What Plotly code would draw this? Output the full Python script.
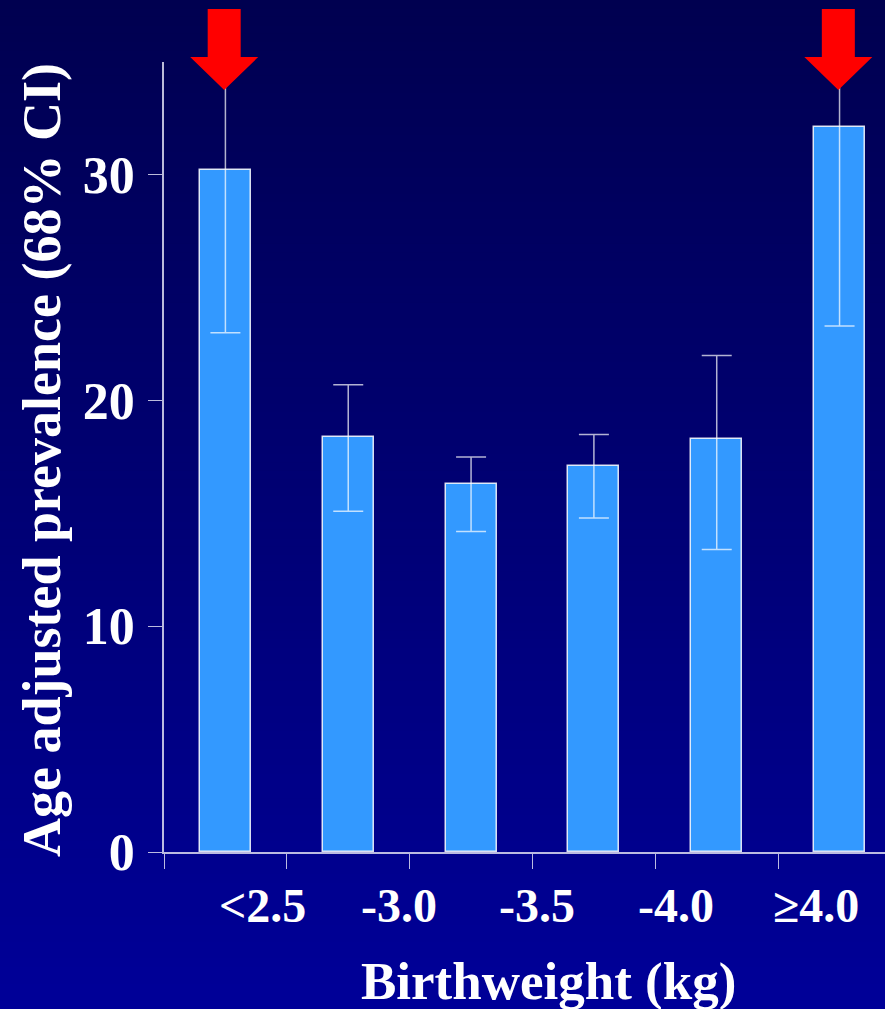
import plotly.graph_objects as go

# Age adjusted prevalence by birthweight group, with 68% CI
groups = ["<2.5", "2.5-3.0", "3.0-3.5", "3.5-4.0", "4.0-4.5", "≥4.5"]
prevalence = [30.2, 18.4, 16.3, 17.1, 18.3, 32.1]
ci_upper = [35.0, 20.7, 17.5, 18.5, 22.0, 35.0]
ci_lower = [23.0, 15.1, 14.2, 14.8, 13.4, 23.3]
axis_labels = ["<2.5", "-3.0", "-3.5", "-4.0", "≥4.0"]
label_pos = [0.30, 1.41, 2.54, 3.67, 4.81]
highlighted = [0, 5]
y_ticks = [0, 10, 20, 30]

W, H = 885, 1009
M_L, M_R, M_T, M_B = 164, 0, 62, 157
X_RANGE = [-0.5, 5.37]
Y_RANGE = [0, 35]
FONT = "Liberation Serif, Times New Roman, serif"

xs = list(range(len(groups)))
err_plus = [u - v for u, v in zip(ci_upper, prevalence)]
err_minus = [v - l for v, l in zip(prevalence, ci_lower)]

fig = go.Figure()
fig.add_trace(go.Bar(
    x=xs, y=prevalence, width=0.415,
    marker=dict(color="#3399FF", line=dict(color="rgba(255,255,255,0.85)", width=1.5)),
    error_y=dict(type="data", array=err_plus, arrayminus=err_minus,
                 color="rgba(255,255,255,0.7)", thickness=1.5, width=15),
    hoverinfo="skip",
))

plot_h = H - M_T - M_B
plot_w = W - M_L - M_R
px_per_x = plot_w / (X_RANGE[1] - X_RANGE[0])

def px_to_paper_y(py):
    return (H - M_B - py) / plot_h

# vertical background gradient, dark navy at the top to royal blue at the bottom
shapes = []
n_strips = 120
top_rgb = (0, 0, 80)
bot_rgb = (0, 0, 152)
for i in range(n_strips):
    t = i / (n_strips - 1)
    r = round(top_rgb[0] + (bot_rgb[0] - top_rgb[0]) * t)
    g = round(top_rgb[1] + (bot_rgb[1] - top_rgb[1]) * t)
    b = round(top_rgb[2] + (bot_rgb[2] - top_rgb[2]) * t)
    y0 = H * i / n_strips
    y1 = H * (i + 1) / n_strips + 1
    shapes.append(dict(type="rect", xref="paper", yref="paper",
                       x0=-0.3, x1=1.1,
                       y0=px_to_paper_y(y1), y1=px_to_paper_y(y0),
                       fillcolor=f"rgb({r},{g},{b})", line=dict(width=0),
                       layer="below"))

# red down-arrows above the extreme groups
shaft_half, head_half = 16.5, 34.0
tip_y, head_y, top_y = 90, 57, 9
for idx in highlighted:
    cx = xs[idx] - 0.01
    sh = shaft_half / px_per_x
    hh = head_half / px_per_x
    path = (f"M {cx - sh} {px_to_paper_y(top_y)} "
            f"L {cx + sh} {px_to_paper_y(top_y)} "
            f"L {cx + sh} {px_to_paper_y(head_y)} "
            f"L {cx + hh} {px_to_paper_y(head_y)} "
            f"L {cx} {px_to_paper_y(tip_y)} "
            f"L {cx - hh} {px_to_paper_y(head_y)} "
            f"L {cx - sh} {px_to_paper_y(head_y)} Z")
    shapes.append(dict(type="path", xref="x", yref="paper", path=path,
                       fillcolor="#FF0000", line=dict(width=0), layer="above"))

annotations = []
for lab, pos in zip(axis_labels, label_pos):
    annotations.append(dict(text=f"<b>{lab}</b>", x=pos, xref="x",
                            y=px_to_paper_y(877), yref="paper",
                            xanchor="center", yanchor="top", showarrow=False,
                            font=dict(family=FONT, size=48, color="white")))
annotations.append(dict(text="<b>Birthweight (kg)</b>", x=(548 - M_L) / plot_w,
                        xref="paper", y=px_to_paper_y(950), yref="paper",
                        xanchor="center", yanchor="top", showarrow=False,
                        font=dict(family=FONT, size=53, color="white")))
annotations.append(dict(text="<b>Age adjusted prevalence (68% CI)</b>",
                        x=(42 - M_L) / plot_w, xref="paper",
                        y=px_to_paper_y(460), yref="paper",
                        xanchor="center", yanchor="middle", textangle=-90,
                        showarrow=False,
                        font=dict(family=FONT, size=54, color="white")))

axis_line = "rgba(220,220,240,0.85)"
fig.update_layout(
    width=W, height=H,
    margin=dict(l=M_L, r=M_R, t=M_T, b=M_B, pad=0),
    paper_bgcolor="#000070", plot_bgcolor="rgba(0,0,0,0)",
    showlegend=False, bargap=0,
    shapes=shapes, annotations=annotations,
    xaxis=dict(range=X_RANGE, showgrid=False, zeroline=False,
               showline=True, linecolor=axis_line, linewidth=1.5,
               tickmode="array", tickvals=[i + 0.5 for i in range(-1, 5)],
               ticks="outside", ticklen=15, tickwidth=1.2, tickcolor=axis_line,
               showticklabels=False, fixedrange=True),
    yaxis=dict(range=Y_RANGE, showgrid=False, zeroline=False,
               showline=True, linecolor=axis_line, linewidth=1.5,
               tickmode="array", tickvals=y_ticks,
               ticktext=[f"<b>{v}</b>" for v in y_ticks],
               ticks="outside", ticklen=14, tickwidth=1.2, tickcolor=axis_line,
               ticklabelstandoff=3,
               tickfont=dict(family=FONT, size=52, color="white"),
               fixedrange=True),
)

fig.write_html("out.html")
